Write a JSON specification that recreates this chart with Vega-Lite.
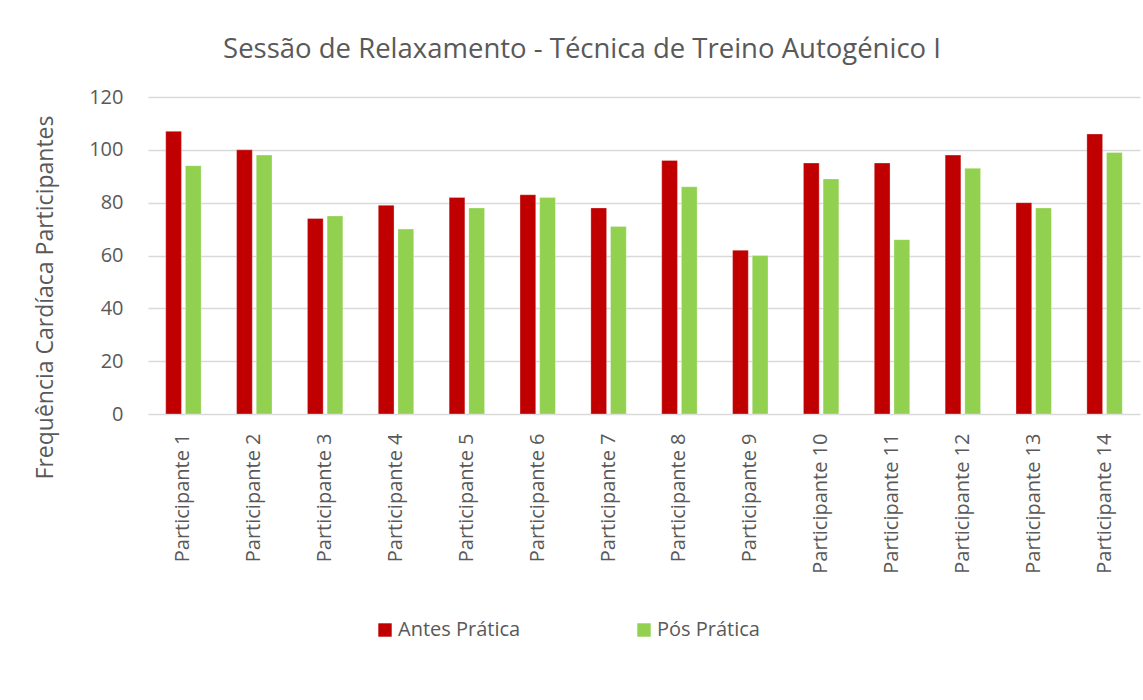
{
  "$schema": "https://vega.github.io/schema/vega-lite/v6.json",
  "width": 992,
  "height": 317,
  "autosize": {"type": "none"},
  "padding": {"left": 148, "top": 97, "right": 3, "bottom": 286},
  "background": "white",
  "config": {
    "font": "Open Sans",
    "view": {"stroke": null}
  },
  "title": {
    "text": "Sessão de Relaxamento - Técnica de Treino Autogénico I",
    "fontSize": 27.5,
    "fontWeight": "normal",
    "color": "#595959",
    "anchor": "middle",
    "frame": "group",
    "dx": -62,
    "offset": 24
  },
  "data": {
    "values": [
      {"p": "Participante 1", "s": "Antes Prática", "v": 107},
      {"p": "Participante 1", "s": "Pós Prática", "v": 94},
      {"p": "Participante 2", "s": "Antes Prática", "v": 100},
      {"p": "Participante 2", "s": "Pós Prática", "v": 98},
      {"p": "Participante 3", "s": "Antes Prática", "v": 74},
      {"p": "Participante 3", "s": "Pós Prática", "v": 75},
      {"p": "Participante 4", "s": "Antes Prática", "v": 79},
      {"p": "Participante 4", "s": "Pós Prática", "v": 70},
      {"p": "Participante 5", "s": "Antes Prática", "v": 82},
      {"p": "Participante 5", "s": "Pós Prática", "v": 78},
      {"p": "Participante 6", "s": "Antes Prática", "v": 83},
      {"p": "Participante 6", "s": "Pós Prática", "v": 82},
      {"p": "Participante 7", "s": "Antes Prática", "v": 78},
      {"p": "Participante 7", "s": "Pós Prática", "v": 71},
      {"p": "Participante 8", "s": "Antes Prática", "v": 96},
      {"p": "Participante 8", "s": "Pós Prática", "v": 86},
      {"p": "Participante 9", "s": "Antes Prática", "v": 62},
      {"p": "Participante 9", "s": "Pós Prática", "v": 60},
      {"p": "Participante 10", "s": "Antes Prática", "v": 95},
      {"p": "Participante 10", "s": "Pós Prática", "v": 89},
      {"p": "Participante 11", "s": "Antes Prática", "v": 95},
      {"p": "Participante 11", "s": "Pós Prática", "v": 66},
      {"p": "Participante 12", "s": "Antes Prática", "v": 98},
      {"p": "Participante 12", "s": "Pós Prática", "v": 93},
      {"p": "Participante 13", "s": "Antes Prática", "v": 80},
      {"p": "Participante 13", "s": "Pós Prática", "v": 78},
      {"p": "Participante 14", "s": "Antes Prática", "v": 106},
      {"p": "Participante 14", "s": "Pós Prática", "v": 99}
    ]
  },
  "mark": {"type": "bar", "stroke": "white", "strokeWidth": 0.6, "strokeOpacity": 0.5},
  "encoding": {
    "x": {
      "field": "p",
      "type": "nominal",
      "sort": null,
      "scale": {"paddingInner": 0.5, "paddingOuter": 0.25},
      "axis": {
        "title": null,
        "labelAngle": -90,
        "labelFontSize": 20,
        "labelColor": "#595959",
        "labelPadding": 19,
        "ticks": false,
        "domain": false,
        "labelLimit": 200
      }
    },
    "xOffset": {
      "field": "s",
      "type": "nominal",
      "scale": {"paddingInner": 0.2}
    },
    "y": {
      "field": "v",
      "type": "quantitative",
      "scale": {"domain": [0, 120]},
      "axis": {
        "title": "Frequência Cardíaca Participantes",
        "titleFontSize": 23,
        "titleFontWeight": "normal",
        "titleColor": "#595959",
        "titleX": -103,
        "titleY": 200,
        "titleAngle": -90,
        "titleAlign": "center",
        "titleBaseline": "middle",
        "values": [0, 20, 40, 60, 80, 100, 120],
        "labelFontSize": 20,
        "labelColor": "#595959",
        "labelPadding": 25,
        "ticks": false,
        "domain": false,
        "gridColor": "#d9d9d9",
        "gridWidth": 1.5
      }
    },
    "color": {
      "field": "s",
      "type": "nominal",
      "scale": {"domain": ["Antes Prática", "Pós Prática"], "range": ["#C00000", "#92D050"]},
      "legend": {
        "title": null,
        "orient": "none",
        "direction": "horizontal",
        "legendX": 227,
        "legendY": 523,
        "symbolType": "square",
        "symbolSize": 180,
        "symbolStrokeWidth": 0,
        "labelFontSize": 20,
        "labelColor": "#595959",
        "labelOffset": 3,
        "columnPadding": 113,
        "labelLimit": 250
      }
    }
  }
}
